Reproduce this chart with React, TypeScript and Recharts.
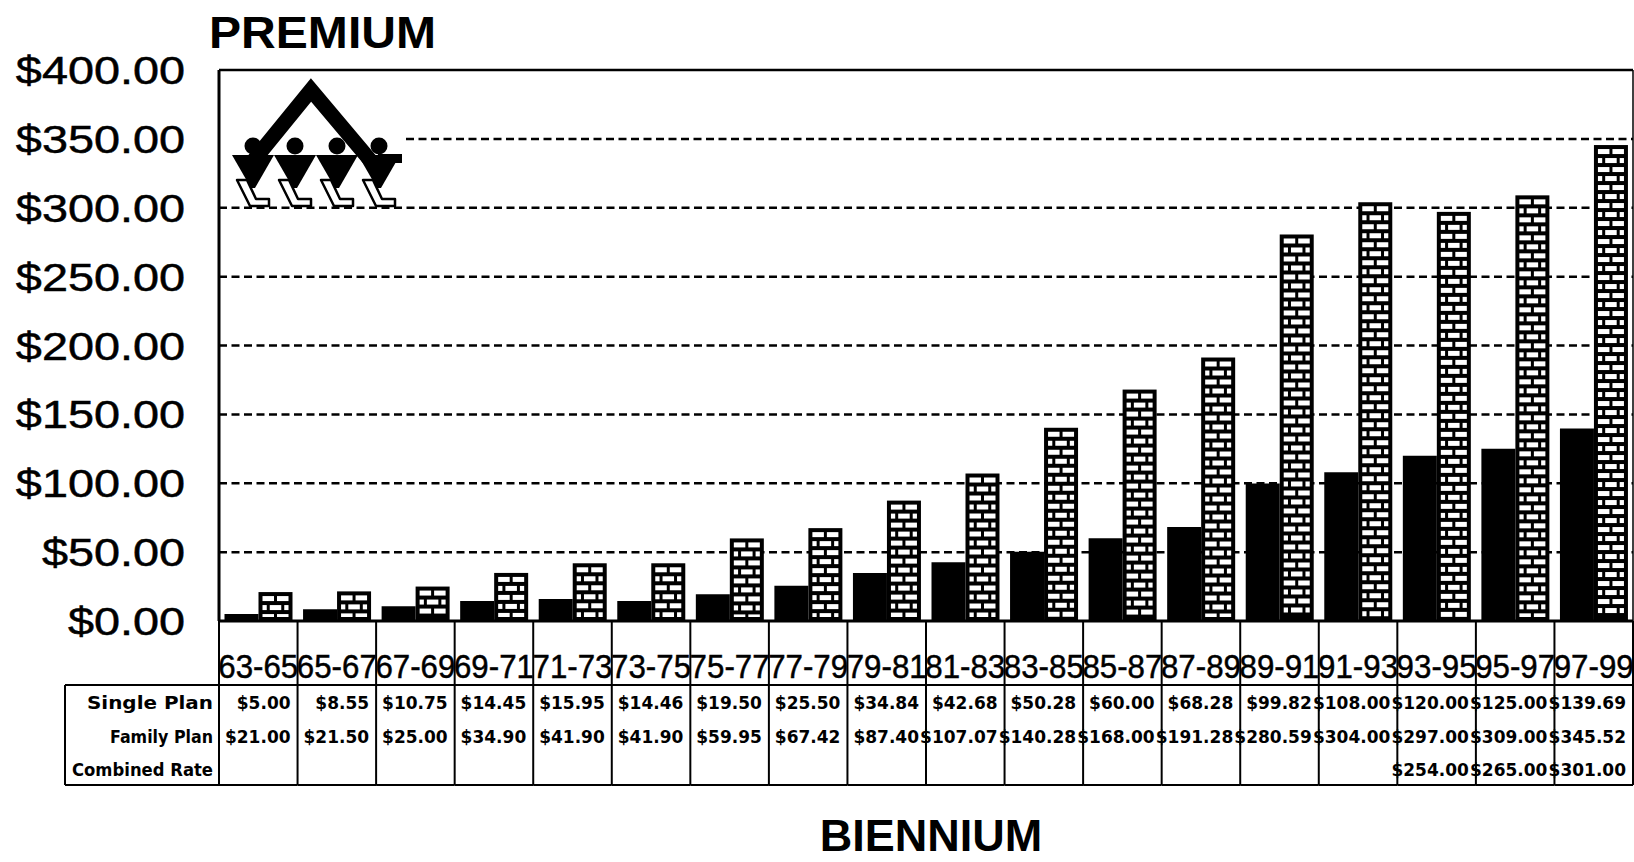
import React from "react";
import { BarChart, Bar, XAxis, YAxis, CartesianGrid } from "recharts";

// ---------- data ----------
const categories = [
  "63-65", "65-67", "67-69", "69-71", "71-73", "73-75", "75-77", "77-79", "79-81",
  "81-83", "83-85", "85-87", "87-89", "89-91", "91-93", "93-95", "95-97", "97-99",
];
const singlePlan = [
  5.0, 8.55, 10.75, 14.45, 15.95, 14.46, 19.5, 25.5, 34.84,
  42.68, 50.28, 60.0, 68.28, 99.82, 108.0, 120.0, 125.0, 139.69,
];
const familyPlan = [
  21.0, 21.5, 25.0, 34.9, 41.9, 41.9, 59.95, 67.42, 87.4,
  107.07, 140.28, 168.0, 191.28, 280.59, 304.0, 297.0, 309.0, 345.52,
];
const combinedRate: (number | null)[] = [
  null, null, null, null, null, null, null, null, null,
  null, null, null, null, null, null, 254.0, 265.0, 301.0,
];
const yTicks = [0, 50, 100, 150, 200, 250, 300, 350, 400];
const rowLabels = ["Single Plan", "Family Plan", "Combined Rate"];
const chartTitle = "PREMIUM";
const axisTitle = "BIENNIUM";

// ---------- layout / style ----------
const W = 1634;
const H = 862;
const PLOT_LEFT = 219;
const PLOT_RIGHT = 1633;
const PLOT_TOP = 70;
const PLOT_H = 551;
const BAND = (PLOT_RIGHT - PLOT_LEFT) / categories.length;
const LOGO_END = 406;
const TABLE_LEFT = 65;
const rowLabelWidths = [126, 103, 141];

const data = categories.map((c, i) => ({
  biennium: c,
  single: singlePlan[i],
  family: familyPlan[i],
  combined: combinedRate[i],
}));

const fmt = (v: number) => "$" + v.toFixed(2);

const BrickBar = (props: any) => {
  const { x, y, width, height } = props;
  if (!height || height <= 0) return null;
  const els: any[] = [
    <rect key="bg" x={x} y={y} width={width} height={height} fill="#000" />,
  ];
  const edge = 4;
  const mortar = 3;
  const rowH = 9;
  const brickH = 5;
  const innerL = x + edge;
  const innerR = x + width - edge;
  const inner = innerR - innerL;
  const bw = (inner - mortar) / 2;
  const mid = x + width / 2;
  let r = 0;
  for (let top = y + edge; top < y + height - edge; top += rowH, r++) {
    const h = Math.min(brickH, y + height - edge - top);
    if (h <= 1.5) break;
    const segs =
      r % 2 === 0
        ? [
            [innerL, innerL + bw],
            [innerR - bw, innerR],
          ]
        : [
            [innerL, mid - bw / 2 - mortar],
            [mid - bw / 2, mid + bw / 2],
            [mid + bw / 2 + mortar, innerR],
          ];
    segs.forEach(([a, b], k) => {
      if (b - a > 0.5)
        els.push(
          <rect key={`${r}-${k}`} x={a} y={top} width={b - a} height={h} fill="#fff" />
        );
    });
  }
  return <g>{els}</g>;
};

const gridLine = (props: any) => {
  const { x1, x2, y1 } = props;
  const v = Math.round(400 * (1 - (y1 - PLOT_TOP) / PLOT_H));
  if (v <= 0) return <g key={props.key} />;
  if (v >= 400)
    return (
      <line key={props.key} x1={x1} x2={x2} y1={y1} y2={y1} stroke="#000" strokeWidth={2.5} />
    );
  const start = v === 350 ? LOGO_END : x1;
  return (
    <line
      key={props.key}
      x1={start}
      x2={x2}
      y1={y1}
      y2={y1}
      stroke="#000"
      strokeWidth={2.5}
      strokeDasharray="8 4.5"
    />
  );
};

const YTick = (props: any) => {
  const { x, y, payload } = props;
  return (
    <text
      transform={`translate(${x},${y}) scale(1.2,1)`}
      textAnchor="end"
      dy={14}
      fontFamily="Liberation Sans, Arial, sans-serif"
      fontSize={39}
      fill="#000"
      stroke="#000"
      strokeWidth={0.5}
    >
      {fmt(payload.value)}
    </text>
  );
};

const XTick = (props: any) => {
  const { x, y, payload } = props;
  const i = payload.index;
  const L = x - BAND / 2;
  const R = x + BAND / 2;
  const tTop = y + 64;
  const tBot = y + 164;
  const rowsY = [y + 88, y + 122, y + 155];
  const vals = [singlePlan[i], familyPlan[i], combinedRate[i]];
  const ln = { stroke: "#000", strokeWidth: 2 };
  return (
    <g>
      <line x1={L} x2={L} y1={y} y2={tBot} {...ln} />
      {i === categories.length - 1 && <line x1={R} x2={R} y1={y} y2={tBot} {...ln} />}
      <line x1={L} x2={R} y1={tTop} y2={tTop} {...ln} />
      <line x1={L} x2={R} y1={tBot} y2={tBot} {...ln} />
      <text
        transform={`translate(${x},${y + 57}) scale(0.92,1)`}
        textAnchor="middle"
        fontFamily="Liberation Sans, Arial, sans-serif"
        fontSize={34}
        fill="#000"
        stroke="#000"
        strokeWidth={0.5}
      >
        {payload.value}
      </text>
      {vals.map((v, k) =>
        v == null ? null : (
          <text
            key={k}
            x={R - 7}
            y={rowsY[k]}
            textAnchor="end"
            fontFamily="DejaVu Sans, sans-serif"
            fontWeight="bold"
            fontSize={17}
            fill="#000"
          >
            {fmt(v)}
          </text>
        )
      )}
      {i === 0 && (
        <g>
          <line x1={TABLE_LEFT} x2={TABLE_LEFT} y1={tTop} y2={tBot} {...ln} />
          <line x1={TABLE_LEFT} x2={L} y1={tTop} y2={tTop} {...ln} />
          <line x1={TABLE_LEFT} x2={L} y1={tBot} y2={tBot} {...ln} />
          {rowLabels.map((t, k) => (
            <text
              key={t}
              x={L - 6}
              y={rowsY[k]}
              textAnchor="end"
              textLength={rowLabelWidths[k]}
              lengthAdjust="spacingAndGlyphs"
              fontFamily="DejaVu Sans, sans-serif"
              fontWeight="bold"
              fontSize={17}
              fill="#000"
            >
              {t}
            </text>
          ))}
        </g>
      )}
    </g>
  );
};

const Logo = () => {
  const figs = [0, 1, 2, 3];
  return (
    <g>
      <polyline
        points="254,160 311,90 370,160"
        fill="none"
        stroke="#000"
        strokeWidth={15}
        strokeLinejoin="miter"
      />
      {figs.map((i) => {
        const cx = 253 + i * 42;
        return (
          <g key={i}>
            <path
              d={`M${cx - 16},180 L${cx - 3},206 L${cx + 16},206 L${cx + 16},199 L${cx + 3},199 L${cx - 6},180 Z`}
              fill="#fff"
              stroke="#000"
              strokeWidth={2.5}
              strokeLinejoin="round"
            />
            <circle cx={cx} cy={146} r={8.5} fill="#000" />
            <path d={`M${cx - 21},155 L${cx + 21},155 L${cx + 2},188 L${cx - 2},188 Z`} fill="#000" />
          </g>
        );
      })}
      <rect x={378} y={154} width={24} height={9} fill="#000" />
    </g>
  );
};

export default function App() {
  return (
    <div style={{ position: "relative", width: W, height: H, background: "#fff" }}>
      <style>{"body{margin:0;background:#fff}"}</style>
      <BarChart
        width={W}
        height={H}
        data={data}
        margin={{ top: PLOT_TOP, right: 0, bottom: 177, left: 0 }}
        barCategoryGap="7%"
        barGap={0}
      >
        <CartesianGrid vertical={false} horizontal={gridLine} />
        <XAxis
          dataKey="biennium"
          height={64}
          interval={0}
          tickSize={0}
          tickMargin={0}
          tickLine={false}
          axisLine={{ stroke: "#000", strokeWidth: 3 }}
          tick={<XTick />}
        />
        <YAxis
          width={PLOT_LEFT}
          domain={[0, 400]}
          ticks={yTicks}
          interval={0}
          tickSize={0}
          tickMargin={34}
          tickLine={false}
          axisLine={{ stroke: "#000", strokeWidth: 3 }}
          tick={<YTick />}
        />
        <YAxis
          yAxisId="r"
          orientation="right"
          width={1}
          domain={[0, 400]}
          tick={false}
          tickLine={false}
          axisLine={{ stroke: "#000", strokeWidth: 1.5 }}
        />
        <Bar dataKey="single" fill="#000" isAnimationActive={false} />
        <Bar dataKey="family" shape={<BrickBar />} isAnimationActive={false} />
      </BarChart>
      <svg
        width={W}
        height={H}
        style={{ position: "absolute", left: 0, top: 0, pointerEvents: "none" }}
      >
        <text
          x={209}
          y={48}
          textLength={227}
          lengthAdjust="spacingAndGlyphs"
          fontFamily="Liberation Sans, Arial, sans-serif"
          fontWeight="bold"
          fontSize={44}
          fill="#000"
        >
          {chartTitle}
        </text>
        <text
          x={931}
          y={851}
          textAnchor="middle"
          fontFamily="Liberation Sans, Arial, sans-serif"
          fontWeight="bold"
          fontSize={45}
          fill="#000"
        >
          {axisTitle}
        </text>
        <Logo />
      </svg>
    </div>
  );
}
